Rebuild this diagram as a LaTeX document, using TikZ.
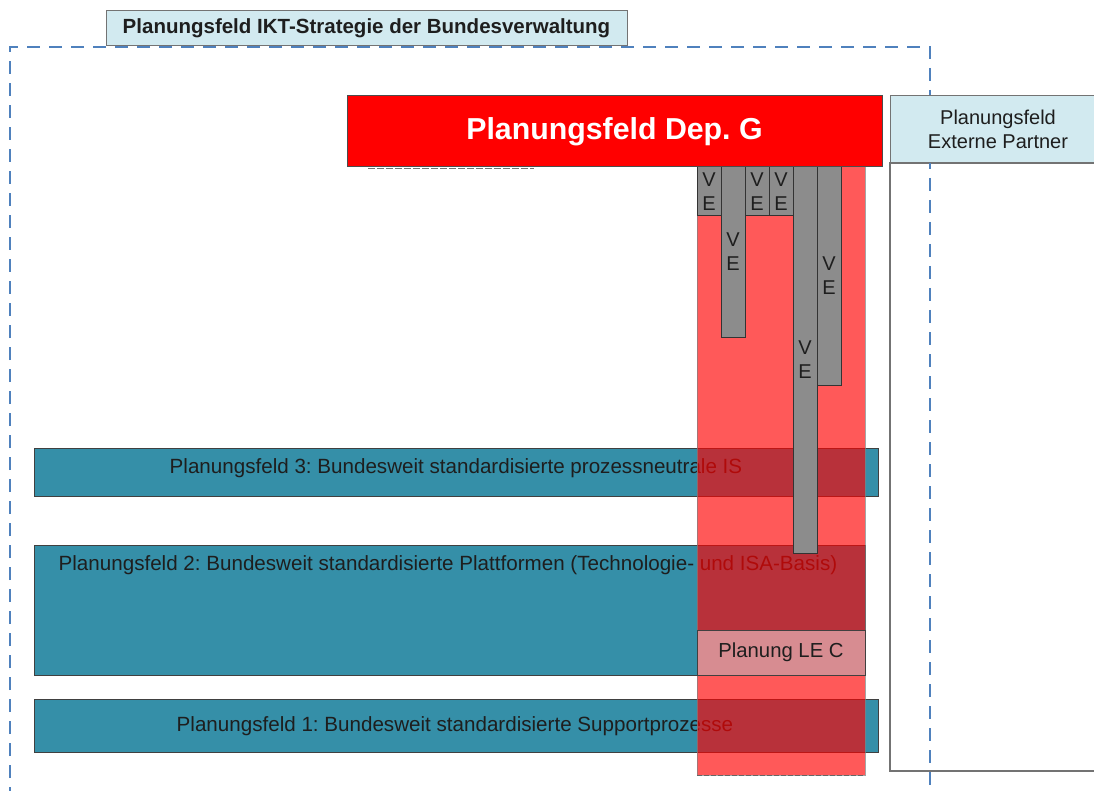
\documentclass[tikz,border=0pt]{standalone}
\usepackage{fontspec}
\setmainfont{Liberation Sans}
\frenchspacing
\definecolor{frameblue}{RGB}{79,129,189}
\definecolor{paleblue}{RGB}{210,234,240}
\definecolor{fieldteal}{RGB}{53,143,168}
\definecolor{vegray}{RGB}{140,140,140}
\definecolor{lepink}{RGB}{215,140,145}
\definecolor{txt}{RGB}{30,30,30}
\tikzset{
  base/.style={rectangle, inner sep=0pt, outer sep=0pt, anchor=north west,
    font=\fontsize{20}{24}\selectfont, text=txt},
  titlebox/.style={base, draw=black!55, fill=paleblue, line width=1pt,
    font=\bfseries\fontsize{20.5}{24}\selectfont},
  extbox/.style={base, draw=black!55, fill=paleblue, line width=1pt, align=center},
  extarea/.style={base, draw=black!55, line width=1.5pt},
  frameline/.style={draw=frameblue, line width=2pt, dash pattern=on 13pt off 9pt},
  depbox/.style={base, draw=black!70, fill=red, text=white, line width=1pt,
    font=\bfseries\fontsize{30.3}{36}\selectfont},
  fieldbar/.style={base, draw=black!75, fill=fieldteal, line width=1pt},
  fieldtext/.style={inner sep=0pt, outer sep=0pt, anchor=base,
    font=\fontsize{20.6}{24}\selectfont, text=txt},
  column/.style={base, fill=red, fill opacity=0.65, draw=black!50, draw opacity=0.7, line width=1pt},
  vebar/.style={base, draw=black!80, fill=vegray, line width=1pt, align=center,
    minimum width=24pt, font=\fontsize{20}{24}\selectfont},
  lebox/.style={base, draw=black!75, fill=lepink, line width=1pt,
    font=\fontsize{20.3}{24}\selectfont},
}
\begin{document}
\begin{tikzpicture}[x=1pt,y=-1pt]
\clip (0,0) rectangle (1094,791);
\fill[white] (0,0) rectangle (1094,791);

% area of the external partners
\node[extarea, minimum width=216pt, minimum height=608pt] (extarea) at (890,163) {};

% dashed frame of the federal ICT strategy
\draw[frameline] (10,800) -- (10,47) -- (930,47) -- (930,800);
\node[titlebox, minimum width=521pt, minimum height=35pt] (title) at (106,11)
  {Planungsfeld IKT-Strategie der Bundesverwaltung};

\node[extbox, minimum width=216pt, minimum height=67pt] (ext) at (890,96)
  {Planungsfeld\\Externe Partner};

% federal planning fields
\node[fieldbar, minimum width=844pt, minimum height=48pt] (pf3) at (34,448) {};
\node[fieldtext] (pf3t) at (456,473)
  {Planungsfeld 3: Bundesweit standardisierte prozessneutrale IS};
\node[fieldbar, minimum width=831pt, minimum height=130pt] (pf2) at (34,545) {};
\node[fieldtext] (pf2t) at (448,570)
  {Planungsfeld 2: Bundesweit standardisierte Plattformen (Technologie- und ISA-Basis)};
\node[fieldbar, minimum width=844pt, minimum height=53pt] (pf1) at (34,699) {};
\node[fieldtext] (pf1t) at (455,731.5)
  {Planungsfeld 1: Bundesweit standardisierte Supportprozesse};

% department column
\node[column, minimum width=168pt, minimum height=608pt] (col) at (697,167) {};
\draw[black!60, line width=1pt, dash pattern=on 5pt off 2pt] (col.south west) -- (col.south east);

% administrative units
\node[vebar, minimum height=49pt]  (ve1) at (697,167) {V\\E};
\node[vebar, minimum height=170pt] (ve2) at (721,167) {V\\E};
\node[vebar, minimum height=49pt]  (ve3) at (745,167) {V\\E};
\node[vebar, minimum height=49pt]  (ve4) at (769,167) {V\\E};
\node[vebar, minimum height=386pt] (ve5) at (793,167) {V\\E};
\node[vebar, minimum height=218pt] (ve6) at (817,167) {V\\E};

\node[lebox, minimum width=168pt, minimum height=45pt] (le) at (697,630) {Planung LE C};

% department header
\node[depbox, minimum width=535pt, minimum height=71pt] (dep) at (347,96) {Planungsfeld Dep. G};
\draw[black!55, line width=1.8pt, dash pattern=on 7pt off 2pt] (368,168.5) -- (534,168.5);
\end{tikzpicture}
\end{document}
